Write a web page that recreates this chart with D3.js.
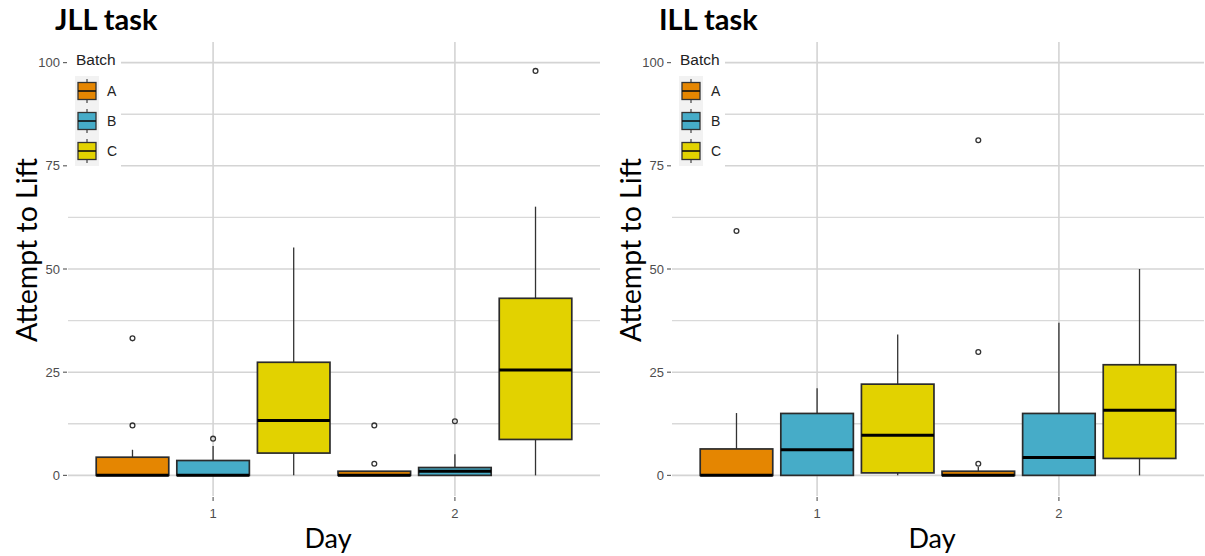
<!DOCTYPE html>
<html><head><meta charset="utf-8">
<script src="https://cdn.jsdelivr.net/npm/d3@7"></script>
<style>
body{margin:0;background:#fff;}
svg{display:block;}
</style></head>
<body>
<svg id="chart" width="1205" height="556"></svg>
<script>
// ---- data ----
const days = ["1", "2"];
const batches = ["A", "B", "C"];
const batchColors = ["#E58601", "#46ACC8", "#E2D200"];
const yTicks = [0, 25, 50, 75, 100];
const yMinor = [12.5, 37.5, 62.5, 87.5];
const panelTitles = ["JLL task", "ILL task"];
const yTitle = "Attempt to Lift";
const xTitle = "Day";
const legendTitle = "Batch";

// order: day1 A,B,C, day2 A,B,C
const jllLower   = [0, 0, 0, 0, 0, 0];
const jllQ1      = [0, 0, 5.4, 0, 0, 8.7];
const jllMedian  = [0, 0, 13.3, 0, 1.0, 25.5];
const jllQ3      = [4.4, 3.6, 27.4, 1.0, 1.9, 42.9];
const jllUpper   = [6.2, 7.1, 55.2, 1.0, 5.1, 65.1];
const jllOutliers = [[12.1, 33.2], [8.9], [], [2.8, 12.1], [13.1], [98]];

const illLower   = [0, 0, 0, 0, 0, 0];
const illQ1      = [0, 0, 0.6, 0, 0, 4.1];
const illMedian  = [0, 6.2, 9.7, 0, 4.3, 15.8];
const illQ3      = [6.4, 15.0, 22.1, 1.0, 15.0, 26.8];
const illUpper   = [15.1, 21.1, 34.1, 2.0, 37.0, 50.0];
const illOutliers = [[59.2], [], [], [2.8, 29.9, 81.2], [], []];

const panelsData = [
  {lower: jllLower, q1: jllQ1, median: jllMedian, q3: jllQ3, upper: jllUpper, outliers: jllOutliers},
  {lower: illLower, q1: illQ1, median: illMedian, q3: illQ3, upper: illUpper, outliers: illOutliers}
];

// ---- layout ----
const svg = d3.select("#chart");
const panelLeft = [68, 672];
const panelWidth = 532;
const panelTop = 42, panelBottom = 496;
const dodge = 1 / 3, boxW = 0.3;

const labelFont = "Lato, 'Open Sans', sans-serif";
const tickFont = "'Liberation Sans', Arial, sans-serif";

panelsData.forEach((pd, pi) => {
  const x0 = panelLeft[pi];
  const g = svg.append("g");
  const x = d3.scaleLinear().domain([0.4, 2.6]).range([x0, x0 + panelWidth]);
  const y = d3.scaleLinear().domain([-5, 105]).range([panelBottom, panelTop]);

  // grid
  g.selectAll(".hminor").data(yMinor).join("line")
    .attr("x1", x0).attr("x2", x0 + panelWidth)
    .attr("y1", d => y(d)).attr("y2", d => y(d))
    .attr("stroke", "#d9d9d9").attr("stroke-width", 1.3);
  g.selectAll(".hmajor").data(yTicks).join("line")
    .attr("x1", x0).attr("x2", x0 + panelWidth)
    .attr("y1", d => y(d)).attr("y2", d => y(d))
    .attr("stroke", "#d4d4d4").attr("stroke-width", 1.6);
  g.selectAll(".vmajor").data(days).join("line")
    .attr("x1", (d, i) => x(i + 1)).attr("x2", (d, i) => x(i + 1))
    .attr("y1", panelTop).attr("y2", panelBottom)
    .attr("stroke", "#d4d4d4").attr("stroke-width", 1.6);

  // y axis ticks and labels
  g.selectAll(".ytick").data(yTicks).join("line")
    .attr("x1", x0 - 5).attr("x2", x0 - 1)
    .attr("y1", d => y(d)).attr("y2", d => y(d))
    .attr("stroke", "#555").attr("stroke-width", 1.1);
  g.selectAll(".ylab").data(yTicks).join("text")
    .attr("x", x0 - 8).attr("y", d => y(d)).attr("dy", "0.36em")
    .attr("text-anchor", "end").attr("font-family", tickFont)
    .attr("font-size", 13).attr("fill", "#4d4d4d").text(d => d);

  // x axis ticks and labels
  g.selectAll(".xtick").data(days).join("line")
    .attr("x1", (d, i) => x(i + 1)).attr("x2", (d, i) => x(i + 1))
    .attr("y1", panelBottom + 1).attr("y2", panelBottom + 5)
    .attr("stroke", "#555").attr("stroke-width", 1.1);
  g.selectAll(".xlab").data(days).join("text")
    .attr("x", (d, i) => x(i + 1)).attr("y", 518)
    .attr("text-anchor", "middle").attr("font-family", tickFont)
    .attr("font-size", 13).attr("fill", "#4d4d4d").text(d => d);

  // boxes
  const boxes = [];
  days.forEach((d, di) => batches.forEach((b, bi) => {
    const k = di * 3 + bi;
    boxes.push({cx: di + 1 + (bi - 1) * dodge, bi, lower: pd.lower[k], q1: pd.q1[k],
      median: pd.median[k], q3: pd.q3[k], upper: pd.upper[k], outliers: pd.outliers[k]});
  }));

  const bg = g.selectAll(".box").data(boxes).join("g");
  bg.append("line")
    .attr("x1", d => x(d.cx)).attr("x2", d => x(d.cx))
    .attr("y1", d => y(d.q3)).attr("y2", d => y(d.upper))
    .attr("stroke", "#333").attr("stroke-width", 1.3);
  bg.append("line")
    .attr("x1", d => x(d.cx)).attr("x2", d => x(d.cx))
    .attr("y1", d => y(d.q1)).attr("y2", d => y(d.lower))
    .attr("stroke", "#333").attr("stroke-width", 1.3);
  bg.append("rect")
    .attr("x", d => x(d.cx - boxW / 2)).attr("width", d => x(d.cx + boxW / 2) - x(d.cx - boxW / 2))
    .attr("y", d => y(d.q3)).attr("height", d => Math.max(0.5, y(d.q1) - y(d.q3)))
    .attr("fill", d => batchColors[d.bi]).attr("stroke", "#2b2b2b").attr("stroke-width", 1.7);
  bg.append("line")
    .attr("x1", d => x(d.cx - boxW / 2)).attr("x2", d => x(d.cx + boxW / 2))
    .attr("y1", d => y(d.median)).attr("y2", d => y(d.median))
    .attr("stroke", "#000").attr("stroke-width", 3);
  bg.selectAll("circle").data(d => d.outliers.map(v => ({cx: d.cx, v}))).join("circle")
    .attr("cx", d => x(d.cx)).attr("cy", d => y(d.v)).attr("r", 2.4)
    .attr("fill", "none").attr("stroke", "#333").attr("stroke-width", 1.3);

  // legend
  const lx = x0, ly = 45;
  const lg = g.append("g");
  lg.append("rect").attr("x", lx).attr("y", ly).attr("width", 53).attr("height", 127).attr("fill", "#fff");
  lg.append("text").attr("x", lx + 8).attr("y", 65).attr("font-family", tickFont)
    .attr("font-size", 15.5).attr("fill", "#222").text(legendTitle);
  lg.append("rect").attr("x", lx + 7).attr("y", 76).attr("width", 24).attr("height", 90).attr("fill", "#f2f2f2");
  const keyY = d3.scaleBand().domain(batches).range([76, 166]);
  const kg = lg.selectAll(".key").data(batches).join("g")
    .attr("transform", b => `translate(${lx + 19},${keyY(b) + keyY.bandwidth() / 2})`);
  kg.append("line").attr("x1", 0).attr("x2", 0).attr("y1", -12).attr("y2", 12)
    .attr("stroke", "#333").attr("stroke-width", 1.1);
  kg.append("rect").attr("x", -9).attr("y", -8.5).attr("width", 18).attr("height", 17)
    .attr("fill", (b, i) => batchColors[i]).attr("stroke", "#333").attr("stroke-width", 1.3);
  kg.append("line").attr("x1", -9).attr("x2", 9).attr("y1", 0).attr("y2", 0)
    .attr("stroke", "#111").attr("stroke-width", 1.6);
  kg.append("text").attr("x", 39).attr("y", 0).attr("dy", "0.36em")
    .attr("font-family", tickFont).attr("font-size", 14).attr("fill", "#222").text(b => b)
    .attr("transform", "translate(-19,0)");

  // titles
  svg.append("text").attr("x", x0 - 13).attr("y", 30)
    .attr("font-family", labelFont).attr("font-weight", "bold")
    .attr("font-size", 29).attr("fill", "#000").text(panelTitles[pi]);
  svg.append("text")
    .attr("transform", `translate(${x0 - 31},250) rotate(-90)`)
    .attr("text-anchor", "middle").attr("font-family", labelFont)
    .attr("font-size", 28.5).attr("fill", "#000").text(yTitle);
  svg.append("text").attr("x", x0 + panelWidth / 2 - 6).attr("y", 548)
    .attr("text-anchor", "middle").attr("font-family", labelFont)
    .attr("font-size", 27).attr("fill", "#000").text(xTitle);
});
</script>
</body></html>
